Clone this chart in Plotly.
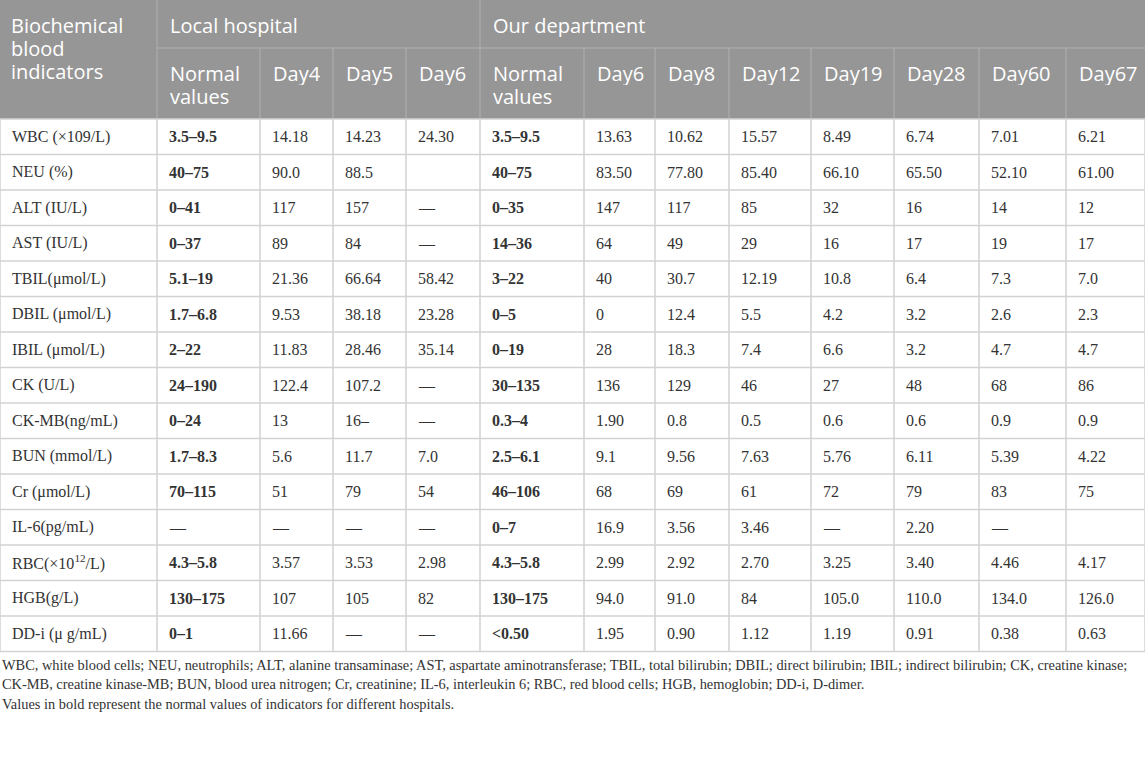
import plotly.graph_objects as go

# column edges (px) and row geometry
col_edges = [0, 157, 260, 333, 406, 480, 584, 655, 729, 811, 894, 979, 1066, 1145]
head_top, head_mid, head_bot = 0, 48, 119
row_h = 35.5

group_labels = ['Local hospital', 'Our department']
sub_headers = ['Normal<br>values', 'Day4', 'Day5', 'Day6',
               'Normal<br>values', 'Day6', 'Day8', 'Day12', 'Day19', 'Day28', 'Day60', 'Day67']
corner_label = 'Biochemical<br>blood<br>indicators'

indicators = ['WBC (×109/L)', 'NEU (%)', 'ALT (IU/L)', 'AST (IU/L)', 'TBIL(μmol/L)',
              'DBIL (μmol/L)', 'IBIL (μmol/L)', 'CK (U/L)', 'CK-MB(ng/mL)', 'BUN (mmol/L)',
              'Cr (μmol/L)', 'IL-6(pg/mL)', 'RBC(×10<sup>12</sup>/L)', 'HGB(g/L)', 'DD-i (μ g/mL)']

local_normal = ['3.5–9.5', '40–75', '0–41', '0–37', '5.1–19', '1.7–6.8', '2–22', '24–190',
                '0–24', '1.7–8.3', '70–115', '—', '4.3–5.8', '130–175', '0–1']
local_day4 = ['14.18', '90.0', '117', '89', '21.36', '9.53', '11.83', '122.4', '13', '5.6',
              '51', '—', '3.57', '107', '11.66']
local_day5 = ['14.23', '88.5', '157', '84', '66.64', '38.18', '28.46', '107.2', '16–', '11.7',
              '79', '—', '3.53', '105', '—']
local_day6 = ['24.30', '', '—', '—', '58.42', '23.28', '35.14', '—', '—', '7.0',
              '54', '—', '2.98', '82', '—']

our_normal = ['3.5–9.5', '40–75', '0–35', '14–36', '3–22', '0–5', '0–19', '30–135', '0.3–4',
              '2.5–6.1', '46–106', '0–7', '4.3–5.8', '130–175', '&lt;0.50']
our_day6 = ['13.63', '83.50', '147', '64', '40', '0', '28', '136', '1.90', '9.1', '68', '16.9',
            '2.99', '94.0', '1.95']
our_day8 = ['10.62', '77.80', '117', '49', '30.7', '12.4', '18.3', '129', '0.8', '9.56', '69',
            '3.56', '2.92', '91.0', '0.90']
our_day12 = ['15.57', '85.40', '85', '29', '12.19', '5.5', '7.4', '46', '0.5', '7.63', '61',
             '3.46', '2.70', '84', '1.12']
our_day19 = ['8.49', '66.10', '32', '16', '10.8', '4.2', '6.6', '27', '0.6', '5.76', '72', '—',
             '3.25', '105.0', '1.19']
our_day28 = ['6.74', '65.50', '16', '17', '6.4', '3.2', '3.2', '48', '0.6', '6.11', '79', '2.20',
             '3.40', '110.0', '0.91']
our_day60 = ['7.01', '52.10', '14', '19', '7.3', '2.6', '4.7', '68', '0.9', '5.39', '83', '—',
             '4.46', '134.0', '0.38']
our_day67 = ['6.21', '61.00', '12', '17', '7.0', '2.3', '4.7', '86', '0.9', '4.22', '75', '',
             '4.17', '126.0', '0.63']

footnotes = [
    'WBC, white blood cells; NEU, neutrophils; ALT, alanine transaminase; AST, aspartate aminotransferase; '
    'TBIL, total bilirubin; DBIL; direct bilirubin; IBIL; indirect bilirubin; CK, creatine kinase;',
    'CK-MB, creatine kinase-MB; BUN, blood urea nitrogen; Cr, creatinine; IL-6, interleukin 6; '
    'RBC, red blood cells; HGB, hemoglobin; DD-i, D-dimer.',
    'Values in bold represent the normal values of indicators for different hospitals.',
]

columns = [indicators, local_normal, local_day4, local_day5, local_day6,
           our_normal, our_day6, our_day8, our_day12, our_day19, our_day28, our_day60, our_day67]
bold_cols = {1, 5}

HEAD_BG = '#969696'
HEAD_LINE = '#b0b0b0'
GRID = '#d2d2d2'
TXT = '#333333'
SANS = 'Open Sans'
SERIF = 'Liberation Serif'
HEAD_FONT = dict(family=SANS, size=20, color='white')
LINE_STEP = 23

shapes = []
annotations = []
n_rows = len(indicators)
table_bot = head_bot + n_rows * row_h
W = col_edges[-1]


def head_text(x, y_first, label):
    # one annotation per line so the line spacing matches the reference
    for k, part in enumerate(label.split('<br>')):
        annotations.append(dict(x=x, y=y_first + k * LINE_STEP, text=part, height=LINE_STEP,
                                xanchor='left', yanchor='middle', showarrow=False,
                                font=HEAD_FONT))


# header background
shapes.append(dict(type='rect', x0=0, x1=W, y0=head_top, y1=head_bot,
                   fillcolor=HEAD_BG, line=dict(width=0), layer='below'))
# header lines
shapes.append(dict(type='line', x0=col_edges[1], x1=W, y0=head_mid, y1=head_mid,
                   line=dict(color=HEAD_LINE, width=1)))
for i, x in enumerate(col_edges[1:-1], start=1):
    y0 = head_top if i in (1, 5) else head_mid
    shapes.append(dict(type='line', x0=x, x1=x, y0=y0, y1=head_bot,
                       line=dict(color=HEAD_LINE, width=1)))

# header text
head_text(col_edges[0] + 9, 25, corner_label)
for lab, ci in zip(group_labels, (1, 5)):
    head_text(col_edges[ci] + 11, 25, lab)
for j, lab in enumerate(sub_headers):
    head_text(col_edges[j + 1] + 11, 73, lab)

# body grid
for r in range(n_rows + 1):
    y = head_bot + r * row_h
    shapes.append(dict(type='line', x0=0, x1=W, y0=y, y1=y, line=dict(color=GRID, width=1.5)))
for x in col_edges:
    shapes.append(dict(type='line', x0=x, x1=x, y0=head_bot, y1=table_bot,
                       line=dict(color=GRID, width=1.5)))

# body text
for ci, col in enumerate(columns):
    for r, val in enumerate(col):
        if val == '':
            continue
        txt = f'<b>{val}</b>' if (ci in bold_cols and val != '—') else val
        annotations.append(dict(x=col_edges[ci] + 10, y=head_bot + (r + 0.5) * row_h, text=txt,
                                xanchor='left', yanchor='middle', showarrow=False,
                                font=dict(family=SERIF, size=16, color=TXT)))

# footnotes
for k, line in enumerate(footnotes):
    annotations.append(dict(x=0, y=table_bot + 13 + k * 19.5, text=line,
                            xanchor='left', yanchor='middle', showarrow=False,
                            font=dict(family=SERIF, size=14.4, color=TXT)))

fig = go.Figure()
fig.update_layout(
    width=1145, height=761,
    margin=dict(l=0, r=0, t=0, b=0),
    paper_bgcolor='white', plot_bgcolor='white',
    xaxis=dict(range=[0, 1145], visible=False, fixedrange=True),
    yaxis=dict(range=[761, 0], visible=False, fixedrange=True),
    shapes=shapes, annotations=annotations,
    showlegend=False,
)
fig.write_html('out.html', config={'displayModeBar': False},
               post_script="document.body.style.margin='0';")
